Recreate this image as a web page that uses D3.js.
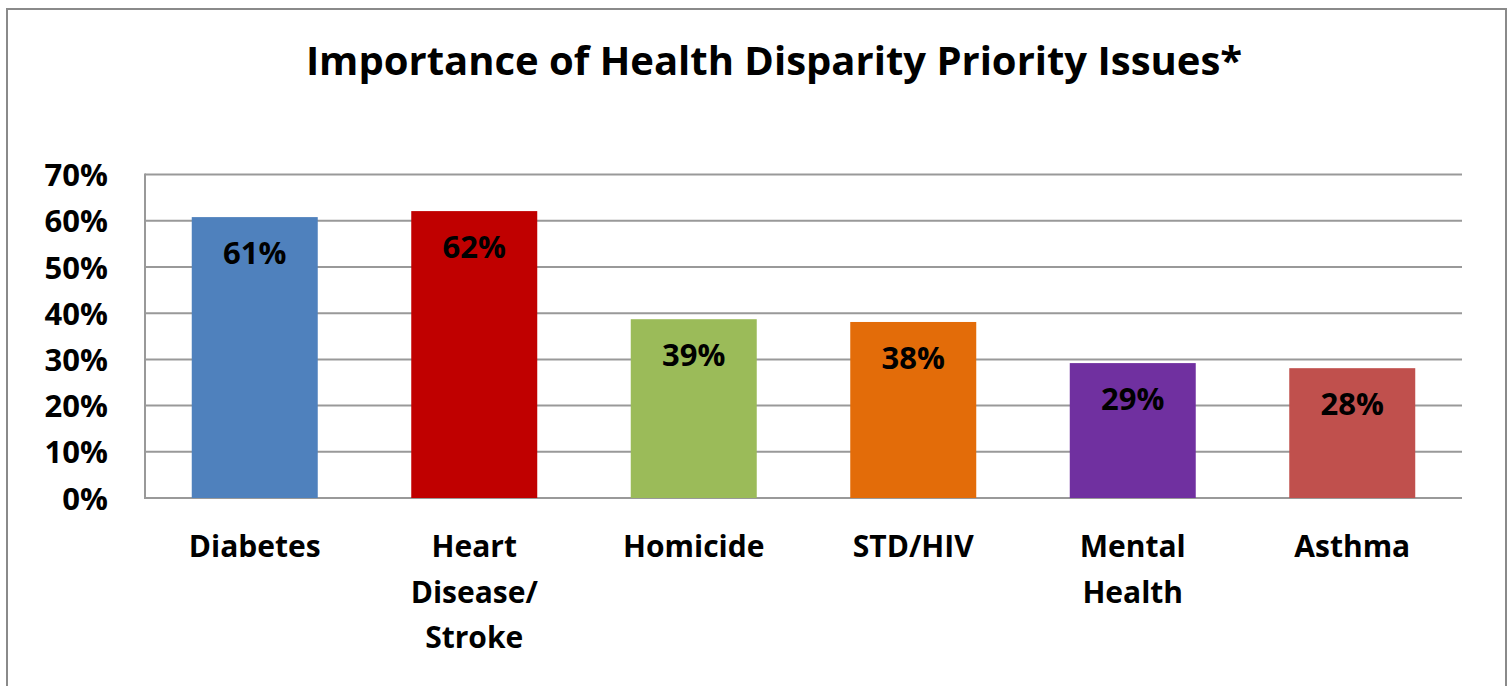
<!DOCTYPE html>
<html>
<head>
<meta charset="utf-8">
<script src="https://cdn.jsdelivr.net/npm/d3@7"></script>
<style>
  html, body { margin: 0; padding: 0; background: #fff; }
  svg { display: block; }
  text { font-family: "Open Sans", Lato, sans-serif; font-weight: 700; fill: #000; }
</style>
</head>
<body>
<svg id="chart" width="1512" height="686"></svg>
<script>
// ---- data ----
const categories = ["Diabetes", "Heart Disease/ Stroke", "Homicide", "STD/HIV", "Mental Health", "Asthma"];
const categoryLines = [["Diabetes"], ["Heart", "Disease/", "Stroke"], ["Homicide"], ["STD/HIV"], ["Mental", "Health"], ["Asthma"]];
const values = [0.608, 0.621, 0.387, 0.381, 0.292, 0.281];
const valueLabels = ["61%", "62%", "39%", "38%", "29%", "28%"];
const barColors = ["#4F81BD", "#C00000", "#9BBB59", "#E36C09", "#7030A0", "#C0504D"];
const yTicks = [0, 0.1, 0.2, 0.3, 0.4, 0.5, 0.6, 0.7];
const yTickLabels = ["0%", "10%", "20%", "30%", "40%", "50%", "60%", "70%"];
const title = "Importance of Health Disparity Priority Issues*";

// ---- layout ----
const svg = d3.select("#chart");
const plot = { left: 145, right: 1462, top: 174.6, bottom: 498 };
const gridColor = "#999999";
const FONT = "'Open Sans', Lato, sans-serif";

// outer frame
svg.append("rect")
  .attr("x", 7).attr("y", 9).attr("width", 1499).attr("height", 690)
  .attr("fill", "none").attr("stroke", "#8a8a8a").attr("stroke-width", 2);

// title
svg.append("text")
  .attr("x", 774).attr("y", 75)
  .attr("text-anchor", "middle")
  .style("font-size", "40px")
  .text(title);

const x = d3.scaleBand()
  .domain(categories)
  .range([plot.left, plot.right])
  .paddingInner(0.426)
  .paddingOuter(0.213);

const y = d3.scaleLinear()
  .domain([0, 0.7])
  .range([plot.bottom, plot.top]);

// gridlines
svg.append("g")
  .selectAll("line")
  .data(yTicks)
  .join("line")
  .attr("x1", plot.left).attr("x2", plot.right)
  .attr("y1", d => y(d)).attr("y2", d => y(d))
  .attr("stroke", gridColor).attr("stroke-width", 2);

// left axis line
svg.append("line")
  .attr("x1", plot.left).attr("x2", plot.left)
  .attr("y1", y(0.7) - 1).attr("y2", y(0) + 1)
  .attr("stroke", gridColor).attr("stroke-width", 2);

// y tick labels via axis
const yAxis = d3.axisLeft(y)
  .tickValues(yTicks)
  .tickFormat((d, i) => yTickLabels[i])
  .tickSize(0)
  .tickPadding(0);
const yg = svg.append("g")
  .attr("transform", `translate(108,0)`)
  .call(yAxis);
yg.select(".domain").remove();
yg.selectAll("text")
  .attr("dy", "0.36em")
  .style("font-size", "31px")
  .style("font-family", FONT)
  .style("font-weight", 700)
  .attr("fill", "#000");

// bars
svg.append("g")
  .selectAll("rect")
  .data(categories)
  .join("rect")
  .attr("x", d => x(d))
  .attr("width", x.bandwidth())
  .attr("y", (d, i) => y(values[i]))
  .attr("height", (d, i) => y(0) - y(values[i]))
  .attr("fill", (d, i) => barColors[i]);

// value labels
svg.append("g")
  .selectAll("text")
  .data(categories)
  .join("text")
  .attr("x", d => x(d) + x.bandwidth() / 2)
  .attr("y", (d, i) => y(values[i]) + 47)
  .attr("text-anchor", "middle")
  .style("font-size", "31px")
  .text((d, i) => valueLabels[i]);

// category labels
const cg = svg.append("g")
  .selectAll("text")
  .data(categories)
  .join("text")
  .attr("x", d => x(d) + x.bandwidth() / 2)
  .attr("y", 557)
  .attr("text-anchor", "middle")
  .style("font-size", "30px");
cg.each(function(d, i) {
  const t = d3.select(this);
  categoryLines[i].forEach((line, j) => {
    t.append("tspan")
      .attr("x", x(d) + x.bandwidth() / 2)
      .attr("y", 557 + j * 45.5)
      .text(line);
  });
});
</script>
</body>
</html>
